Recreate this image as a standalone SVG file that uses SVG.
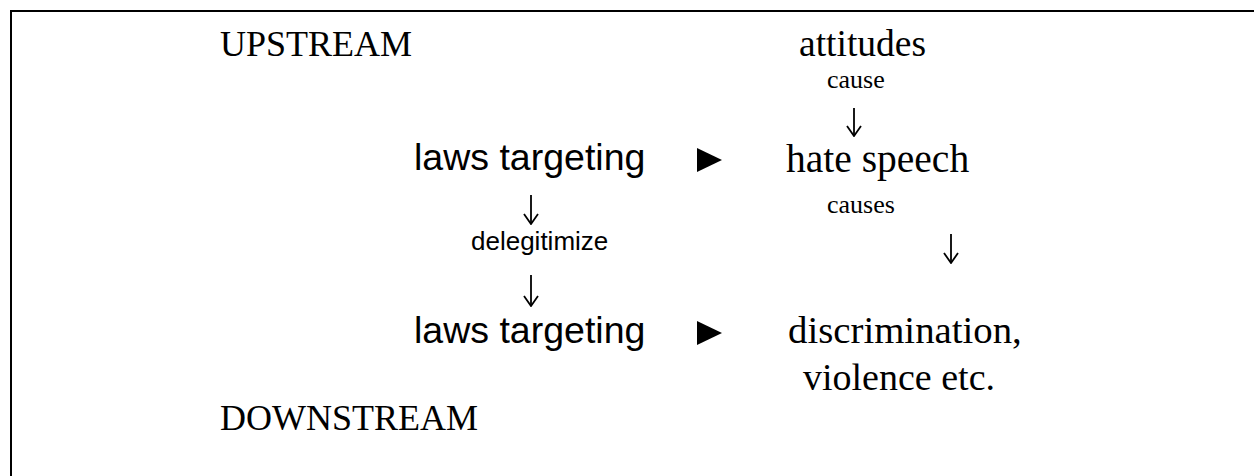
<svg xmlns="http://www.w3.org/2000/svg" width="1254" height="476" viewBox="0 0 1254 476">
<defs>
<marker id="vhead" viewBox="0 0 12 16" refX="11" refY="8" markerWidth="12" markerHeight="16" markerUnits="userSpaceOnUse" orient="auto">
<path d="M1,1 L11,8 L1,15" fill="none" stroke="#000" stroke-width="1.8"/>
</marker>
</defs>
<style>
.serif{font-family:"Liberation Serif","Times New Roman",serif;fill:#000}
.sans{font-family:"Liberation Sans",Arial,sans-serif;fill:#000}
.big{font-size:37.5px}
.head{font-size:36px}
.small{font-size:26px}
.down{fill:none;stroke:#000;stroke-width:1.8}
.tri{fill:#000;stroke:none}
</style>
<rect width="1254" height="476" fill="#fff"/>
<path d="M11,476 V11 H1254" fill="none" stroke="#000" stroke-width="2"/>
<g id="upstream"><text class="serif head" x="220" y="56">UPSTREAM</text></g>
<g id="downstream"><text class="serif head" x="220" y="430">DOWNSTREAM</text></g>
<g id="attitudes"><text class="serif big" x="799" y="56">attitudes</text></g>
<g id="hate-speech"><text class="serif" style="font-size:39.5px" x="786" y="172">hate speech</text></g>
<g id="discrimination"><text class="serif" style="font-size:38.8px" x="788" y="343">discrimination,</text><text class="serif" style="font-size:38px" x="803" y="390">violence etc.</text></g>
<g id="laws-targeting-1"><text class="sans big" x="414" y="170">laws targeting</text></g>
<g id="laws-targeting-2"><text class="sans big" x="414" y="343">laws targeting</text></g>
<g id="connectors">
<text class="serif small" x="827" y="88">cause</text>
<path class="down" d="M854,108 V136" marker-end="url(#vhead)"/>
<text class="serif small" x="827" y="213">causes</text>
<path class="down" d="M951,234 V263" marker-end="url(#vhead)"/>
<path class="down" d="M531,195 V224" marker-end="url(#vhead)"/>
<text class="sans small" x="471" y="250">delegitimize</text>
<path class="down" d="M531,275 V306" marker-end="url(#vhead)"/>
<polygon class="tri" points="697,148 697,172 722,160"/>
<polygon class="tri" points="697,321 697,345 722,333"/>
</g>
</svg>
